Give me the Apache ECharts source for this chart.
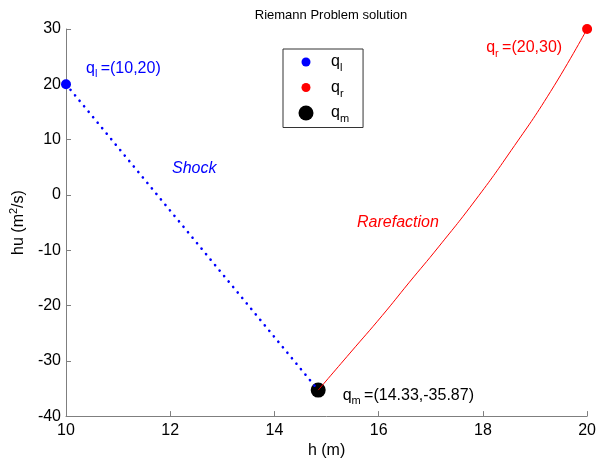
<!DOCTYPE html>
<html>
<head>
<meta charset="utf-8">
<script src="https://cdn.jsdelivr.net/npm/echarts@6/dist/echarts.min.js"></script>
<style>
html,body{margin:0;padding:0;background:#fff;}
#chart{width:599px;height:464px;}
</style>
</head>
<body>
<div id="chart"></div>
<script>
// ---- data ----
var qL = [10, 20];
var qR = [20, 30];
var qM = [14.84, -35.3];
var shockH = [10, 14.84];
var shockHU = [20, -35.3];
var rareH = [14.84, 15.45, 16.07, 16.58, 17.15, 17.86, 18.54, 19.30, 20];
var rareHU = [-35.3, -28.6, -21.8, -15.9, -9.4, -0.9, 8.0, 18.7, 30];
var xTicks = [10, 12, 14, 16, 18, 20];
var yTicks = [-40, -30, -20, -10, 0, 10, 20, 30];
var labelQL = '=(10,20)';
var labelQR = '=(20,30)';
var labelQM = '=(14.33,-35.87)';

function pairs(xs, ys) { return xs.map(function (x, i) { return [x, ys[i]]; }); }

var FONT = 'Liberation Sans, Arial, sans-serif';
var FS = 16;
function richColor(c) {
  return {
    q: { fontSize: FS, fontFamily: FONT, color: c },
    s: { fontSize: 11, fontFamily: FONT, color: c, padding: [12, 0, 0, 0] },
    t: { fontSize: FS, fontFamily: FONT, color: c }
  };
}
function iconCircle(r) {
  // bounding box 30x20, circle centered at (10,10)
  return 'path://M0,0 M30,20 M' + (10 - r) + ',10 A' + r + ',' + r + ' 0 1,0 ' + (10 + r) + ',10 A' + r + ',' + r + ' 0 1,0 ' + (10 - r) + ',10 Z';
}

var chart = echarts.init(document.getElementById('chart'), null, { renderer: 'canvas' });
var axisGray = '#7f7f7f';
var option = {
  animation: false,
  backgroundColor: '#ffffff',
  title: {
    text: 'Riemann Problem solution',
    left: 326, textAlign: 'center', top: 4,
    textStyle: { fontSize: 13, fontWeight: 'normal', color: '#000', fontFamily: FONT }
  },
  grid: { left: 63, right: 9, top: 29, bottom: 46, containLabel: false },
  legend: {
    orient: 'vertical', left: 283, top: 49,
    padding: [3, 14, 3, 13],
    itemGap: 4, itemWidth: 30, itemHeight: 20,
    borderColor: '#333', borderWidth: 1, backgroundColor: '#fff',
    data: [
      { name: 'ql', icon: iconCircle(4.5) },
      { name: 'qr', icon: iconCircle(4.5) },
      { name: 'qm', icon: iconCircle(7.5) }
    ],
    formatter: function (n) { return '{q|q}{s|' + n.charAt(1) + '}'; },
    textStyle: { color: '#000', rich: richColor('#000') }
  },
  xAxis: {
    type: 'value', min: xTicks[0], max: xTicks[xTicks.length - 1], interval: 2,
    name: 'h (m)', nameLocation: 'middle', nameGap: 26,
    nameTextStyle: { fontSize: FS, color: '#000', fontFamily: FONT },
    axisLine: { show: true, onZero: false, lineStyle: { color: axisGray, width: 1 } },
    axisTick: { show: true, inside: true, length: 5, lineStyle: { color: axisGray } },
    axisLabel: { fontSize: FS, color: '#000', fontFamily: FONT, margin: 6 },
    splitLine: { show: false }
  },
  yAxis: {
    type: 'value', min: yTicks[0], max: yTicks[yTicks.length - 1], interval: 10,
    name: 'hu (m{sup|2}/s)', nameLocation: 'middle', nameGap: 37, nameRotate: 90,
    nameTextStyle: { fontSize: FS, color: '#000', fontFamily: FONT,
      rich: { sup: { fontSize: 11, color: '#000', fontFamily: FONT, padding: [0, 0, 10, 0] } } },
    axisLine: { show: true, onZero: false, lineStyle: { color: axisGray, width: 1 } },
    axisTick: { show: true, inside: true, length: 5, lineStyle: { color: axisGray } },
    axisLabel: { fontSize: FS, color: '#000', fontFamily: FONT, margin: 5 },
    splitLine: { show: false }
  },
  series: [
    {
      name: 'shock', type: 'line', data: pairs(shockH, shockHU),
      symbol: 'none', clip: false,
      lineStyle: { color: '#0000ff', width: 2.6, type: [0.1, 7], cap: 'round', opacity: 1 },
      z: 3
    },
    {
      name: 'rare', type: 'line', data: pairs(rareH, rareHU),
      symbol: 'none', smooth: 0.5, clip: false,
      lineStyle: { color: '#ff0000', width: 1, opacity: 1 },
      z: 2
    },
    {
      name: 'ql', type: 'scatter', data: [qL], symbolSize: 10, clip: false,
      itemStyle: { color: '#0000ff', opacity: 1 }, z: 4,
      label: { show: true, position: 'right', offset: [10, -16], color: '#0000ff',
        formatter: '{q|q}{s|l} {t|' + labelQL + '}', rich: richColor('#0000ff') }
    },
    {
      name: 'qr', type: 'scatter', data: [qR], symbolSize: 10, clip: false,
      itemStyle: { color: '#ff0000', opacity: 1 }, z: 4,
      label: { show: true, position: 'left', offset: [-15, 19], color: '#ff0000',
        formatter: '{q|q}{s|r} {t|' + labelQR + '}', rich: richColor('#ff0000') }
    },
    {
      name: 'qm', type: 'scatter', data: [qM], symbolSize: 15, clip: false,
      itemStyle: { color: '#000000', opacity: 1 }, z: 1,
      label: { show: true, position: 'right', offset: [12, 5], color: '#000',
        formatter: '{q|q}{s|m} {t|' + labelQM + '}', rich: richColor('#000000') }
    }
  ],
  graphic: [
    { type: 'text', left: 172, top: 161,
      style: { text: 'Shock', fill: '#0000ff', font: 'italic 16px ' + FONT } },
    { type: 'text', left: 357, top: 215,
      style: { text: 'Rarefaction', fill: '#ff0000', font: 'italic 16px ' + FONT } }
  ]
};
chart.setOption(option);
</script>
</body>
</html>
